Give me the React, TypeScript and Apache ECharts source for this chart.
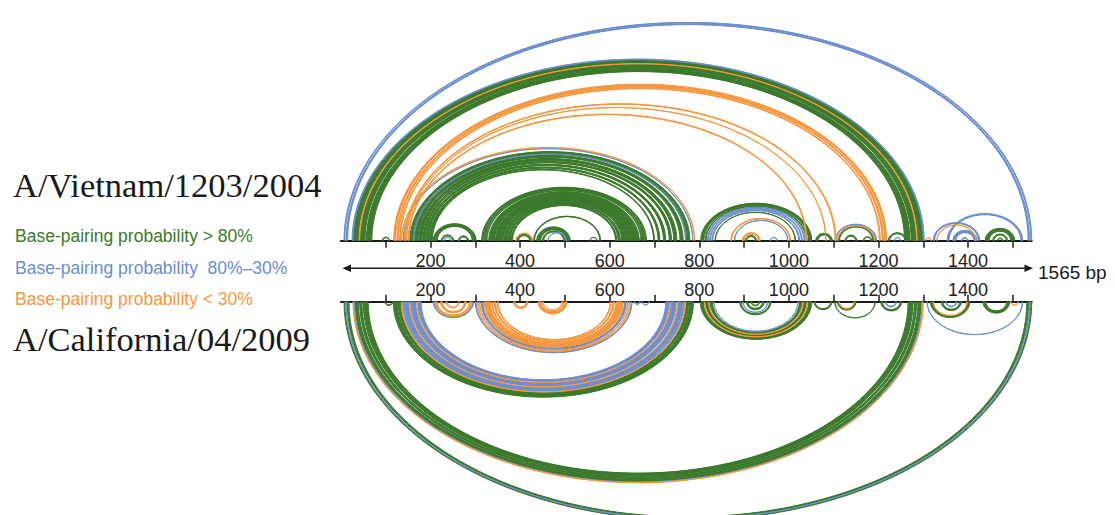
import React, { useEffect, useRef } from "react";
import * as echarts from "echarts";

// ---- data (positions in bp) ----
const SEQ_LABEL = "1565 bp";
const AXIS_MIN = 0;
const AXIS_MAX = 1542;
const TICKS = [100, 200, 300, 400, 500, 600, 700, 800, 900, 1000, 1100, 1200, 1300, 1400, 1500];
const TICK_LABELS = [200, 400, 600, 800, 1000, 1200, 1400];

// stems: [first base of 5' side, last base of 3' side, number of stacked pairs]
type Stem = [number, number, number];

const vietnamGreen: Stem[] = [
  [28, 1299, 12], [43, 1284, 12], [57, 1270, 13],
  [92, 109, 3],
  [154, 779, 6], [161, 772, 3], [165, 764, 8], [174, 750, 8], [183, 738, 6], [190, 725, 6], [197, 712, 5], [202, 700, 3],
  [206, 302, 10], [224, 252, 4], [262, 285, 4],
  [314, 682, 4], [319, 677, 4], [324, 672, 3], [330, 666, 14], [345, 652, 18], [364, 634, 8], [373, 624, 6], [380, 616, 4], [430, 580, 3],
  [393, 425, 5], [437, 512, 10], [450, 500, 4], [556, 572, 2], [648, 660, 2], [665, 676, 2],
  [803, 1051, 8], [813, 1041, 3], [835, 1015, 2], [903, 928, 4],
  [1060, 1097, 6], [1110, 1190, 4], [1125, 1152, 4], [1166, 1185, 3], [1222, 1262, 4],
  [1438, 1504, 10], [1455, 1488, 4], [1465, 1478, 3],
];
const vietnamBlue: Stem[] = [
  [7, 1542, 3], [12, 1537, 4], [25, 1302, 3], [139, 786, 2], [162, 770, 2], [230, 246, 2], [462, 503, 2],
  [818, 1036, 3], [823, 1030, 3], [828, 1024, 3], [878, 998, 2], [958, 974, 2], [1103, 1196, 3], [1235, 1250, 2],
  [1353, 1522, 5], [1322, 1426, 4], [1366, 1420, 8], [1385, 1400, 3],
];
const vietnamOrange: Stem[] = [
  [41, 1286, 2], [118, 1218, 5], [125, 1211, 4], [131, 1204, 3], [142, 1105, 3], [146, 1083, 2], [150, 1040, 3],
  [135, 790, 2], [390, 428, 2], [870, 1004, 3], [896, 936, 5], [1108, 1192, 2], [1330, 1418, 2], [1305, 1318, 2],
];

const californiaGreen: Stem[] = [
  [7, 1542, 3], [14, 1535, 5], [32, 1295, 8], [42, 1285, 6], [50, 1277, 12], [98, 116, 3],
  [117, 787, 10], [128, 776, 6],
  [802, 1051, 8], [814, 1039, 6], [824, 1029, 6], [890, 960, 4], [905, 945, 5], [915, 935, 3],
  [1056, 1096, 4], [1102, 1193, 2], [1108, 1150, 4], [1205, 1252, 5], [1316, 1404, 6], [1340, 1385, 5], [1433, 1493, 8],
];
const californiaBlue: Stem[] = [
  [11, 1538, 2], [29, 1298, 2], [138, 766, 3], [142, 762, 10], [156, 748, 12], [172, 732, 8], [206, 296, 3],
  [300, 650, 3], [313, 637, 5], [655, 668, 3], [672, 688, 2], [832, 1021, 2], [897, 953, 2], [1215, 1240, 3],
  [1308, 1522, 2], [1350, 1375, 3],
];
const californiaOrange: Stem[] = [
  [27, 1300, 2], [135, 769, 2], [153, 752, 2], [169, 735, 2], [210, 292, 6], [222, 280, 5], [235, 265, 3],
  [305, 645, 2], [309, 641, 2], [320, 630, 14], [336, 616, 3], [342, 610, 4], [349, 603, 3],
  [385, 418, 5], [440, 505, 8], [450, 495, 3], [811, 1042, 2], [821, 1032, 2], [1112, 1146, 2], [1322, 1398, 2], [1495, 1512, 2],
];

const GREEN = "#3b792b";
const BLUE = "#6a8ece";
const ORANGE = "#f7963c";
const SANS = "'Liberation Sans', Arial, sans-serif";
const SERIF = "'Liberation Serif', 'Times New Roman', serif";

function pairs(stems: Stem[]) {
  const out: number[][] = [];
  for (const [i, j, n] of stems) {
    for (let k = 0; k < n; k++) out.push([i + k, 0, j - k]);
  }
  return out;
}

function arcSeries(stems: Stem[], color: string, strand: number) {
  return {
    type: "custom",
    xAxisIndex: strand,
    yAxisIndex: strand,
    silent: true,
    clip: false,
    encode: { x: 0, y: 1 },
    data: pairs(stems),
    renderItem: (_p: any, api: any) => {
      const a = api.coord([api.value(0), 0]);
      const b = api.coord([api.value(2), 0]);
      const rx = (b[0] - a[0]) / 2;
      const cx = (a[0] + b[0]) / 2;
      const ry = rx * (0.635 + 0.37 * Math.exp(-rx / 25));
      const dir = strand === 0 ? -1 : 1;
      const n = Math.max(14, Math.ceil(rx / 2.5));
      const pts: number[][] = [];
      for (let s = 0; s <= n; s++) {
        const t = (Math.PI * s) / n;
        pts.push([cx - rx * Math.cos(t), a[1] + dir * ry * Math.sin(t)]);
      }
      return {
        type: "polyline",
        shape: { points: pts },
        style: { stroke: color, lineWidth: 1, fill: null },
      };
    },
  };
}

function xAxisCfg(grid: number) {
  return {
    gridIndex: grid,
    type: "value",
    min: AXIS_MIN,
    max: AXIS_MAX,
    position: grid === 0 ? "bottom" : "top",
    splitLine: { show: false },
    axisLine: { show: true, onZero: false, lineStyle: { color: "#1a1a1a", width: 2 } },
    axisTick: { show: true, customValues: TICKS, length: 7, lineStyle: { color: "#1a1a1a", width: 1.5 } },
    axisLabel: {
      show: true,
      customValues: TICK_LABELS,
      formatter: (v: number) => String(v),
      margin: grid === 0 ? 11 : 3,
      fontSize: 18,
      color: "#222",
      fontFamily: SANS,
    },
  };
}

export default function App() {
  const ref = useRef<HTMLDivElement>(null);
  useEffect(() => {
    if (!ref.current) return;
    const chart = echarts.init(ref.current, null, { renderer: "svg" });
    const legend = [
      { text: "Base-pairing probability > 80%", color: GREEN, y: 236 },
      { text: "Base-pairing probability \u00a080%\u201330%", color: BLUE, y: 267.5 },
      { text: "Base-pairing probability < 30%", color: ORANGE, y: 299 },
    ];
    chart.setOption({
      animation: false,
      backgroundColor: "#ffffff",
      grid: [
        { left: 340.9, top: 0, width: 690.8, height: 240.7 },
        { left: 340.9, top: 301.7, width: 690.8, height: 213.3 },
      ],
      xAxis: [xAxisCfg(0), xAxisCfg(1)],
      yAxis: [
        { gridIndex: 0, type: "value", min: 0, max: 1, show: false },
        { gridIndex: 1, type: "value", min: 0, max: 1, inverse: true, show: false },
      ],
      series: [
        arcSeries(vietnamGreen, GREEN, 0),
        arcSeries(vietnamBlue, BLUE, 0),
        arcSeries(vietnamOrange, ORANGE, 0),
        arcSeries(californiaGreen, GREEN, 1),
        arcSeries(californiaBlue, BLUE, 1),
        arcSeries(californiaOrange, ORANGE, 1),
      ],
      graphic: [
        { type: "line", shape: { x1: 348, y1: 268.3, x2: 1027, y2: 268.3 }, style: { stroke: "#1a1a1a", lineWidth: 1.5 } },
        { type: "polygon", shape: { points: [[342.5, 268.3], [351, 264.6], [351, 272]] }, style: { fill: "#1a1a1a" } },
        { type: "polygon", shape: { points: [[1033, 268.3], [1024.5, 264.6], [1024.5, 272]] }, style: { fill: "#1a1a1a" } },
        { type: "text", x: 1038, y: 272, style: { text: SEQ_LABEL, fontSize: 19, fontFamily: SANS, fill: "#1a1a1a", verticalAlign: "middle" } },
        { type: "text", x: 13, y: 185, style: { text: "A/Vietnam/1203/2004", fontSize: 34.5, fontFamily: SERIF, fill: "#1a1a1a", verticalAlign: "middle" } },
        { type: "text", x: 13, y: 338.5, style: { text: "A/California/04/2009", fontSize: 34.5, fontFamily: SERIF, fill: "#1a1a1a", verticalAlign: "middle" } },
        ...legend.map((l) => ({
          type: "text",
          x: 15,
          y: l.y,
          style: { text: l.text, fontSize: 17.5, fontFamily: SANS, fill: l.color, verticalAlign: "middle" },
        })),
      ],
    });
    return () => chart.dispose();
  }, []);
  return (
    <div
      ref={ref}
      style={{ position: "absolute", left: 0, top: 0, width: 1115, height: 515, background: "#fff" }}
    />
  );
}
